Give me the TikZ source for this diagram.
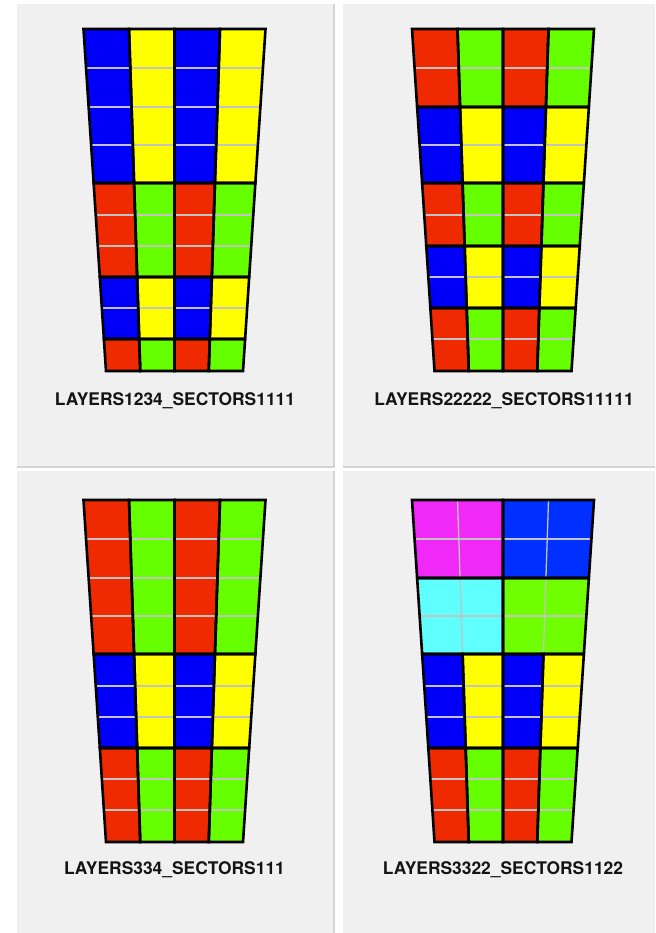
\documentclass[tikz,border=0pt]{standalone}
\usepackage{fontspec}
\setmainfont{TeX Gyre Heros}
\definecolor{panelbg}{RGB}{240,240,240}
\definecolor{shadowc}{RGB}{212,212,212}
\definecolor{cred}{RGB}{240,42,0}
\definecolor{cgreen}{RGB}{102,255,0}
\definecolor{cblue}{RGB}{0,0,250}
\definecolor{cyellow}{RGB}{255,255,0}
\definecolor{cmag}{RGB}{240,40,248}
\definecolor{cblueb}{RGB}{0,48,255}
\definecolor{ccyan}{RGB}{96,255,255}
\definecolor{cgreenb}{RGB}{112,255,0}
\definecolor{sublinec}{RGB}{195,195,195}
\definecolor{labelc}{RGB}{20,20,20}
\newif\ifborderpass
\def\Blist{{0,39,78,116,154,186,217,248,279,310,342}}
\newcommand\trapX[3]{\pgfmathsetmacro\xr{#1-91+22.5*(#2)/342+(#3)*(182-45*(#2)/342)/4}}
\newcommand\cell[7]{%
  \pgfmathsetmacro\cya{\Blist[#3]}%
  \pgfmathsetmacro\cyb{\Blist[#4]}%
  \trapX{#1}{\cya}{#5}\let\cxa\xr
  \trapX{#1}{\cya}{#6}\let\cxb\xr
  \trapX{#1}{\cyb}{#6}\let\cxc\xr
  \trapX{#1}{\cyb}{#5}\let\cxd\xr
  \ifborderpass
    \draw[cellborder] (\cxa,#2+\cya) -- (\cxb,#2+\cya) -- (\cxc,#2+\cyb) -- (\cxd,#2+\cyb) -- cycle;
  \else
    \fill[#7] (\cxa,#2+\cya) -- (\cxb,#2+\cya) -- (\cxc,#2+\cyb) -- (\cxd,#2+\cyb) -- cycle;
    \pgfmathtruncatemacro\ks{#3+1}\pgfmathtruncatemacro\ke{#4-1}%
    \ifnum\ks>\ke\else
      \foreach \kk in {\ks,...,\ke}{%
        \pgfmathsetmacro\sy{\Blist[\kk]}%
        \trapX{#1}{\sy}{#5}\let\sxa\xr
        \trapX{#1}{\sy}{#6}\let\sxb\xr
        \draw[subline] (\sxa,#2+\sy) -- (\sxb,#2+\sy);
      }%
    \fi
    \pgfmathtruncatemacro\ms{#5+1}\pgfmathtruncatemacro\me{#6-1}%
    \ifnum\ms>\me\else
      \foreach \mm in {\ms,...,\me}{%
        \trapX{#1}{\cya}{\mm}\let\vxa\xr
        \trapX{#1}{\cyb}{\mm}\let\vxb\xr
        \draw[subline] (\vxa,#2+\cya) -- (\vxb,#2+\cyb);
      }%
    \fi
  \fi
}
\newcommand\layer[6]{%
  \cell{#1}{#2}{#3}{#4}{0}{1}{#5}%
  \cell{#1}{#2}{#3}{#4}{1}{2}{#6}%
  \cell{#1}{#2}{#3}{#4}{2}{3}{#5}%
  \cell{#1}{#2}{#3}{#4}{3}{4}{#6}}
\newcommand\allcells{%
  % top-left: LAYERS1234
  \layer{174.5}{29}{0}{4}{cblue}{cyellow}%
  \layer{174.5}{29}{4}{7}{cred}{cgreen}%
  \layer{174.5}{29}{7}{9}{cblue}{cyellow}%
  \layer{174.5}{29}{9}{10}{cred}{cgreen}%
  % top-right: LAYERS22222
  \layer{503}{29}{0}{2}{cred}{cgreen}%
  \layer{503}{29}{2}{4}{cblue}{cyellow}%
  \layer{503}{29}{4}{6}{cred}{cgreen}%
  \layer{503}{29}{6}{8}{cblue}{cyellow}%
  \layer{503}{29}{8}{10}{cred}{cgreen}%
  % bottom-left: LAYERS334
  \layer{174.5}{500}{0}{4}{cred}{cgreen}%
  \layer{174.5}{500}{4}{7}{cblue}{cyellow}%
  \layer{174.5}{500}{7}{10}{cred}{cgreen}%
  % bottom-right: LAYERS3322 SECTORS1122
  \cell{503}{500}{0}{2}{0}{2}{cmag}%
  \cell{503}{500}{0}{2}{2}{4}{cblueb}%
  \cell{503}{500}{2}{4}{0}{2}{ccyan}%
  \cell{503}{500}{2}{4}{2}{4}{cgreenb}%
  \layer{503}{500}{4}{7}{cblue}{cyellow}%
  \layer{503}{500}{7}{10}{cred}{cgreen}%
}
\begin{document}
\begin{tikzpicture}[x=1pt,y=-1pt,
  cellborder/.style={draw=black,line width=2.6pt},
  subline/.style={draw=sublinec,line width=1.3pt},
  panel/.style={fill=panelbg},
  panelshadow/.style={fill=shadowc},
  labeltext/.style={anchor=base,inner sep=0pt,text=labelc,
    font=\fontsize{17.4}{20}\selectfont\bfseries}]
\useasboundingbox (0,0) rectangle (655,933);
\fill[white] (0,0) rectangle (655,933);
% panels
\fill[panel] (17,4) rectangle (335,468);
\fill[panelshadow] (333,4) rectangle (335,468);
\fill[panelshadow] (17,466) rectangle (335,468);
\fill[panel] (343,4) rectangle (655,468);
\fill[panelshadow] (343,466) rectangle (655,468);
\fill[panel] (17,470.5) rectangle (335,933);
\fill[panelshadow] (333,470.5) rectangle (335,933);
\fill[panel] (343,470.5) rectangle (655,933);
% cells
\borderpassfalse
\allcells
\borderpasstrue
\allcells
% labels
\node[labeltext] (lab1) at (175,405.7) {LAYERS1234\_SECTORS1111};
\node[labeltext] (lab2) at (504,405.7) {LAYERS22222\_SECTORS11111};
\node[labeltext] (lab3) at (174.5,874) {LAYERS334\_SECTORS111};
\node[labeltext] (lab4) at (503,874) {LAYERS3322\_SECTORS1122};
\end{tikzpicture}
\end{document}
